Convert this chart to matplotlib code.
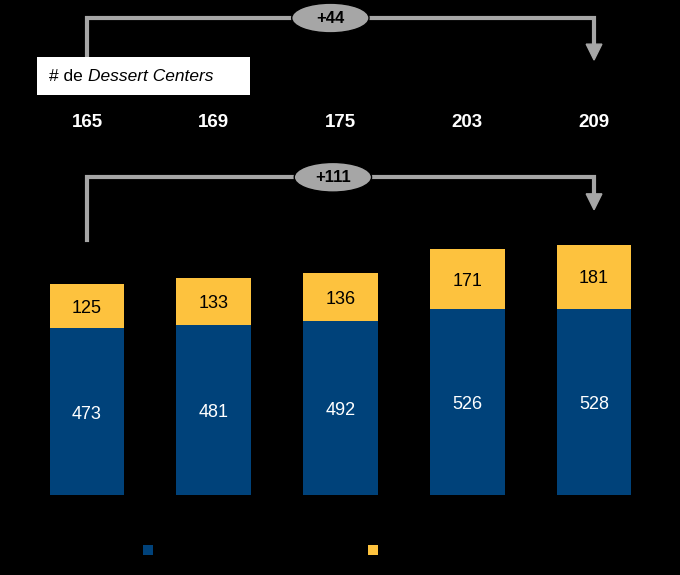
import matplotlib.pyplot as plt
from matplotlib.patches import Ellipse, Rectangle, Polygon

plt.rcParams['font.family'] = ['Liberation Sans', 'DejaVu Sans']

years = ['2019', '2020', '2021', '2022', '2023']  # x labels are black on black in the original
blue_vals = [473, 481, 492, 526, 528]
yellow_vals = [125, 133, 136, 171, 181]
centers = [165, 169, 175, 203, 209]

blue = '#00427A'
yellow = '#FDC23E'
grey = '#A6A6A6'

fig = plt.figure(figsize=(6.8, 5.75), dpi=100, facecolor='black')
ax = fig.add_axes([0, 0.1391, 1, 0.8609])
ax.set_facecolor('black')
ax.set_xlim(-0.686, 4.678)
ax.set_ylim(0, 1402)
ax.axis('off')

x = list(range(len(years)))
ax.bar(x, blue_vals, width=0.59, color=blue)
ax.bar(x, yellow_vals, width=0.59, bottom=blue_vals, color=yellow)

for i in x:
    ax.text(i, blue_vals[i] / 2 - 8, str(blue_vals[i]), ha='center', va='center',
            color='white', fontsize=13)
    ax.text(i, blue_vals[i] + yellow_vals[i] / 2 - 6, str(yellow_vals[i]), ha='center',
            va='center', color='black', fontsize=13)
    ax.text(i, 1056, str(centers[i]), ha='center', va='center', color='white',
            fontsize=13.5, fontweight='bold')


def bracket(y_top, y_left, y_tip, label, lx):
    lw = 3
    ax.plot([0, 0, 4, 4], [y_left, y_top, y_top, y_tip + 30], color=grey, lw=lw,
            solid_joinstyle='miter', zorder=3)
    ax.add_patch(Polygon([[4 - 0.062, y_tip + 45], [4 + 0.062, y_tip + 45], [4, y_tip]],
                         closed=True, color=grey, zorder=3))
    ax.add_patch(Ellipse((lx, y_top), 0.61, 84, facecolor=grey, edgecolor='black',
                         lw=1, zorder=4))
    ax.text(lx, y_top, label, ha='center', va='center', fontsize=12,
            fontweight='bold', color='black', zorder=5)


bracket(1351, 1240, 1232, '+%d' % (centers[-1] - centers[0]), 1.92)
bracket(900, 722, 808, '+%d' % (blue_vals[-1] + yellow_vals[-1]
                                - blue_vals[0] - yellow_vals[0]), 1.94)

# label box
ax.add_patch(Rectangle((-0.394, 1133), 1.68, 108, facecolor='white', edgecolor='none',
                       zorder=6))
t1 = ax.text(-0.30, 1186, '# de ', ha='left', va='center', fontsize=12.5, color='black',
             zorder=7)
ax.annotate('Dessert Centers', xy=(1, 0.5), xycoords=t1, ha='left', va='center',
            fontsize=12.5, style='italic', color='black', zorder=7)

# legend markers (labels are black on black in the original)
fig.patches.append(Rectangle((143 / 680, 20 / 575), 10 / 680, 10 / 575,
                             transform=fig.transFigure, facecolor=blue, edgecolor='none'))
fig.patches.append(Rectangle((368 / 680, 20 / 575), 10 / 680, 10 / 575,
                             transform=fig.transFigure, facecolor=yellow, edgecolor='none'))

fig.savefig('out.png', dpi=100, facecolor='black')
